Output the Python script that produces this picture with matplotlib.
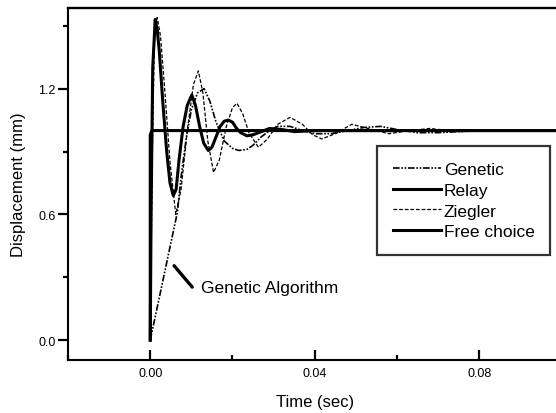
import matplotlib
matplotlib.use("Agg")
import matplotlib.pyplot as plt
from matplotlib.ticker import MultipleLocator

plt.rcParams['font.family'] = ['Liberation Sans', 'DejaVu Sans']

# ---- data ----
t_free = [0.0, 0.0, 0.0004, 0.0012, 0.1]
y_free = [0.0, 0.98, 1.0, 1.0, 1.0]

t_relay = [0.0, 0.0002, 0.0006, 0.0012, 0.0017, 0.0022, 0.003, 0.004, 0.0048, 0.0056,
           0.0063, 0.007, 0.008, 0.009, 0.0101, 0.011, 0.012, 0.013, 0.0141, 0.015,
           0.016, 0.017, 0.018, 0.019, 0.020, 0.021, 0.022, 0.0235, 0.025, 0.027,
           0.029, 0.032, 0.035, 0.04, 0.05, 0.1]
y_relay = [0.0, 0.6, 1.3, 1.53, 1.48, 1.38, 1.15, 0.9, 0.75, 0.69,
           0.72, 0.86, 1.02, 1.12, 1.17, 1.12, 1.02, 0.94, 0.905, 0.92,
           0.97, 1.02, 1.045, 1.05, 1.04, 1.01, 0.99, 0.975, 0.98, 0.995,
           1.01, 1.005, 0.995, 1.0, 1.0, 1.0]

t_zieg = [0.0, 0.0005, 0.001, 0.0017, 0.0025, 0.0035, 0.0048, 0.0062, 0.0075, 0.009,
          0.0105, 0.0117, 0.0128, 0.014, 0.0154, 0.0168, 0.0185, 0.0200, 0.0211, 0.0225,
          0.024, 0.0263, 0.0285, 0.031, 0.034, 0.037, 0.0395, 0.0417, 0.045, 0.049,
          0.053, 0.058, 0.063, 0.068, 0.075, 0.085, 0.1]
y_zieg = [0.0, 0.9, 1.42, 1.54, 1.45, 1.2, 0.85, 0.6, 0.72, 1.0,
          1.22, 1.285, 1.18, 0.95, 0.80, 0.86, 1.02, 1.11, 1.13, 1.08,
          0.99, 0.92, 0.96, 1.03, 1.063, 1.03, 0.98, 0.96, 0.985, 1.03,
          1.01, 0.985, 1.0, 1.01, 0.995, 1.0, 1.0]

t_gen = [0.0, 0.0066, 0.0075, 0.0088, 0.010, 0.0115, 0.0131, 0.0145, 0.016, 0.018,
         0.0200, 0.0215, 0.0235, 0.025, 0.027, 0.029, 0.031, 0.034, 0.037, 0.040,
         0.044, 0.048, 0.052, 0.056, 0.060, 0.065, 0.070, 0.080, 0.1]
y_gen = [0.0, 0.61, 0.78, 0.97, 1.1, 1.18, 1.2, 1.14, 1.04, 0.95,
         0.915, 0.905, 0.91, 0.93, 0.97, 1.0, 1.02, 1.02, 1.0, 0.985,
         0.985, 1.0, 1.015, 1.02, 1.005, 0.99, 0.99, 1.0, 1.0]

xticks = [0.00, 0.04, 0.08]
yticks = [0.0, 0.6, 1.2]

# ---- figure ----
fig = plt.figure(figsize=(5.56, 4.14), dpi=100)
ax = fig.add_axes([68/556, 53/414, 493.5/556, 352/414])

ax.plot(t_gen, y_gen, color='black', lw=1.2, dashes=(4, 1, 1, 1, 1, 1), label='Genetic')
ax.plot(t_relay, y_relay, color='black', lw=2.2, label='Relay')
ax.plot(t_zieg, y_zieg, color='black', lw=0.9, dashes=(3, 1.5), label='Ziegler')
ax.plot(t_free, y_free, color='black', lw=2.2, label='Free choice')

ax.set_xlim(-0.02, 0.1)
ax.set_ylim(-0.095, 1.585)
ax.set_xticks(xticks)
ax.set_xticklabels(['0.00', '0.04', '0.08'])
ax.set_yticks(yticks)
ax.set_yticklabels(['0.0', '0.6', '1.2'])
ax.xaxis.set_minor_locator(MultipleLocator(0.02))
ax.yaxis.set_minor_locator(MultipleLocator(0.3))

ax.tick_params(axis='x', which='major', direction='in', length=7, width=1.6, labelsize=9, pad=5)
ax.tick_params(axis='x', which='minor', direction='in', length=3.5, width=1.6)
ax.tick_params(axis='y', which='major', direction='out', length=7, width=1.6, labelsize=9, pad=2)
ax.tick_params(axis='y', which='minor', direction='out', length=3.5, width=1.6)

for s in ax.spines.values():
    s.set_linewidth(1.5)
ax.spines['top'].set_linewidth(1.7)

ax.set_xlabel('Time (sec)', fontsize=12, labelpad=11)
ax.set_ylabel('Displacement (mm)', fontsize=12, labelpad=9)

leg = ax.legend(loc='upper left', bbox_to_anchor=((377-68)/493.5, (361-147)/352),
                frameon=True, fancybox=False, fontsize=12.5, handlelength=2.8,
                handletextpad=0.15, labelspacing=0.33, borderpad=0.9, borderaxespad=0)
leg.get_frame().set_edgecolor('black')
leg.get_frame().set_linewidth(1.6)

ax.annotate('Genetic Algorithm', xy=(0.0124, 0.253), fontsize=12.5, va='center', ha='left')
ax.annotate('', xy=(0.0058, 0.355), xytext=(0.0102, 0.253),
            arrowprops=dict(arrowstyle='-', lw=2.4, color='black', shrinkA=0, shrinkB=0))

fig.savefig('out.png', dpi=100)
